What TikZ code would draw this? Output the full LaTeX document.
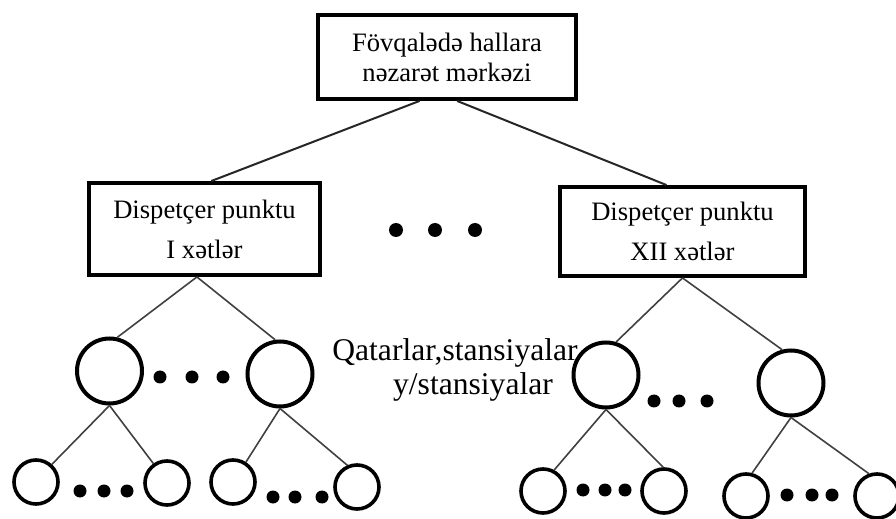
\documentclass[tikz,border=0pt]{standalone}
\usepackage{fontspec}
\setmainfont{Liberation Serif}
\usetikzlibrary{calc}
\tikzset{
  panel/.style   = {draw, line width=2.2pt, align=center, inner sep=2pt,
                    font=\fontsize{13.3}{20}\selectfont},
  stn/.style     = {draw, circle, line width=2pt, minimum size=32.5pt, inner sep=0pt},
  sub/.style     = {draw, circle, line width=1.8pt, minimum size=22pt, inner sep=0pt},
  bullet/.style  = {circle, fill=black, minimum size=6.5pt, inner sep=0pt},
  link/.style    = {line width=0.8pt, black!75},
  toplink/.style = {line width=1pt, black!85},
  lbl/.style     = {align=center, inner sep=1pt, font=\fontsize{15.8}{17}\selectfont},
}

\begin{document}
\begin{tikzpicture}[x=0.5pt, y=-0.5pt]
  \useasboundingbox (0,0) rectangle (896,519);
  % control centre and dispatch points
  \node[panel, minimum width=128.75pt, minimum height=41.75pt,
        font=\fontsize{13.3}{15}\selectfont] (ctr) at (447,57) {Fövqalədə hallara\\nəzarət mərkəzi};
  \node[panel, minimum width=115.25pt, minimum height=45.75pt] (dpI) at (204.5,229) {Dispetçer punktu\\I xətlər};
  \node[panel, minimum width=122.25pt, minimum height=44.25pt] (dpXII) at (682.5,231.5) {Dispetçer punktu\\XII xətlər};
  \draw[toplink] (ctr.238.5) -- (dpI.82);
  \draw[toplink] (ctr.283) -- (dpXII.109.5);
  \foreach \x/\n in {396/1,435/2,475/3}
    \node[bullet, minimum size=7pt] (m\n) at (\x,230) {};
  % stations
  \node[stn] (sA) at (109.5,371) {};
  \node[stn] (sB) at (280,374) {};
  \node[stn] (sD) at (606,375) {};
  \node[stn] (sE) at (791,383) {};
  \draw[link] (dpI.261) -- (sA.77);
  \draw[link] (dpI.261) -- (sB.98);
  \draw[link] (dpXII.south) -- (sD.73);
  \draw[link] (dpXII.south) -- (sE.105);
  \foreach \x/\n in {160/1,192/2,223/3}
    \node[bullet] (ab\n) at (\x,377) {};
  \foreach \x/\n in {654/1,679/2,707/3}
    \node[bullet] (de\n) at (\x,401) {};
  \node[lbl] (lab) at (455,370) {Qatarlar,stansiyalar\\\hspace*{18pt}y/stansiyalar};
  % sub-stations
  \node[sub] (cA) at (36,482) {};
  \node[sub] (cB) at (167,483) {};
  \node[sub] (cC) at (233,482) {};
  \node[sub] (cD) at (357,487) {};
  \node[sub] (fA) at (543,491) {};
  \node[sub] (fB) at (664,491) {};
  \node[sub] (fC) at (746,496) {};
  \node[sub] (fD) at (877,496) {};
  \draw[link] (sA.south) -- (cA.48);
  \draw[link] (sA.south) -- (cB.125);
  \draw[link] (sB.south) -- (cC.57);
  \draw[link] (sB.south) -- (cD.114);
  \draw[link] (sD.south) -- (fA.62);
  \draw[link] (sD.south) -- (fB.92);
  \draw[link] (sE.south) -- (fC.75);
  \draw[link] (sE.south) -- (fD.110);
  \foreach \x/\n in {80/1,104/2,127/3}
    \node[bullet] (cab\n) at (\x,491) {};
  \foreach \x/\n in {273/1,295/2,322/3}
    \node[bullet] (ccd\n) at (\x,497) {};
  \foreach \x/\n in {583/1,605/2,625/3}
    \node[bullet] (fab\n) at (\x,490) {};
  \foreach \x/\n in {787/1,812/2,832/3}
    \node[bullet] (fcd\n) at (\x,495) {};
\end{tikzpicture}
\end{document}
